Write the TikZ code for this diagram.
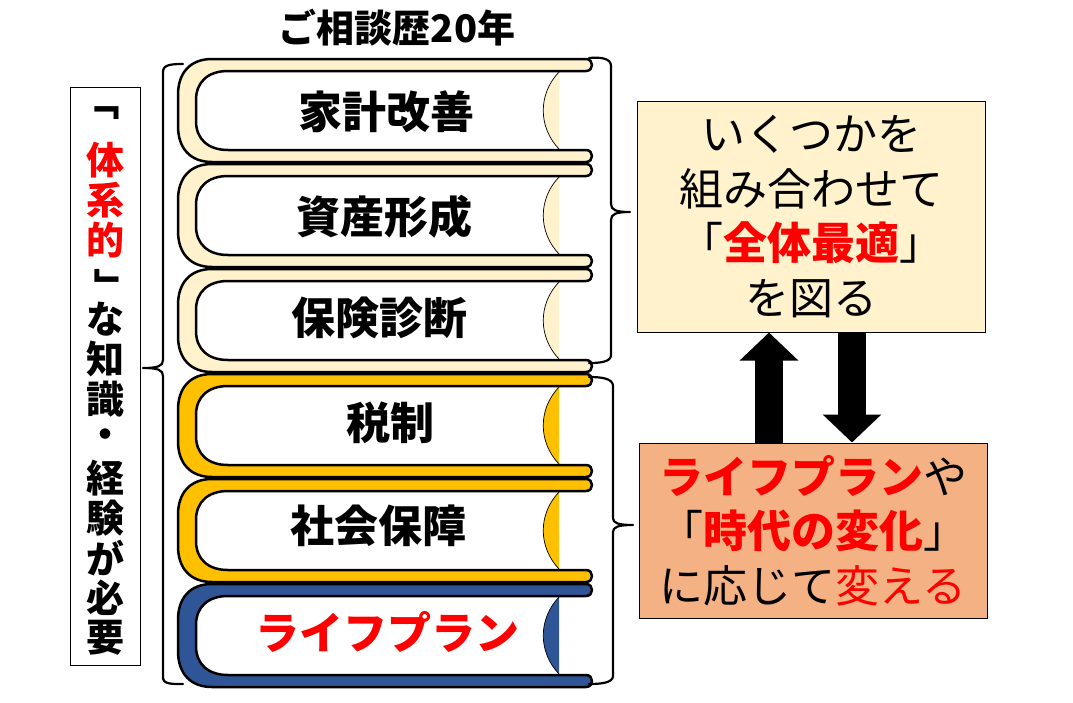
\documentclass[tikz,border=0pt]{standalone}
\usepackage{fontspec}
\newfontfamily\jp{Noto Sans CJK JP}
\usetikzlibrary{arrows.meta}
\definecolor{lightcov}{HTML}{FFF2CC}
\definecolor{goldcov}{HTML}{FFC000}
\definecolor{bluecov}{HTML}{2F5597}
\definecolor{boxa}{HTML}{FFF2CC}
\definecolor{boxb}{HTML}{F4B183}
\definecolor{myred}{HTML}{FF0000}
\newcommand\drawbook[2]{%
  \fill[white] (196,#1+12) rectangle (559,#1+91);
  \fill[#2] (559,#1+13) .. controls (538,#1+35) and (538,#1+68) .. (559,#1+90) -- cycle;
  \draw[line width=0.7pt] (559,#1+13) .. controls (538,#1+35) and (538,#1+68) .. (559,#1+90);
  \draw[line width=2.5pt, fill=#2, line join=round]
    (586,#1) -- (212,#1) .. controls (190,#1) and (178,#1+14) .. (178,#1+36)
    -- (178,#1+67) .. controls (178,#1+89) and (190,#1+103) .. (212,#1+103)
    -- (586,#1+103) .. controls (594,#1+103) and (594,#1+91) .. (586,#1+91)
    -- (228,#1+91) .. controls (208,#1+91) and (196,#1+80) .. (196,#1+62)
    -- (196,#1+41) .. controls (196,#1+23) and (208,#1+12) .. (228,#1+12)
    -- (586,#1+12) .. controls (594,#1+12) and (594,#1) .. (586,#1) -- cycle;
}
\tikzset{
  booklabel/.style={font=\jp\bfseries\fontsize{44}{48}\selectfont, inner sep=0pt},
  infobox/.style={draw, line width=1pt, inner sep=0pt, align=center,
    minimum width=348pt, font=\jp\fontsize{44}{54.5}\selectfont},
  vchar/.style={font=\jp\bfseries\fontsize{38}{40}\selectfont, inner sep=0pt,
    minimum width=38pt, minimum height=38pt},
  vbracket/.style={vchar, rotate=-90},
  bigarrow/.style={line width=28pt, -{Triangle[width=57pt,length=28pt]}},
  bracestyle/.style={line width=2.2pt, line cap=round, line join=round},
}
\begin{document}
\begin{tikzpicture}[x=1pt,y=-1pt]
\useasboundingbox (0,0) rectangle (1073,702);
\fill[white] (0,0) rectangle (1073,702);

% title
\node[font=\jp\bfseries\fontsize{38}{42}\selectfont, inner sep=0pt] (title) at (397,28) {ご相談歴20年};

% books
\drawbook{59}{lightcov}
\drawbook{164}{lightcov}
\drawbook{269}{lightcov}
\drawbook{374}{goldcov}
\drawbook{479}{goldcov}
\drawbook{584}{bluecov}

\node[booklabel] (b1) at (386,112) {家計改善};
\node[booklabel] (b2) at (384,217) {資産形成};
\node[booklabel] (b3) at (379,318) {保険診断};
\node[booklabel] (b4) at (390,423) {税制};
\node[booklabel] (b5) at (378,526) {社会保障};
\node[booklabel, text=myred] (b6) at (387,632) {ライフプラン};

% left brace
\draw[bracestyle] (183,64) .. controls (170,64) and (163,65) .. (163,72)
  -- (163,360) .. controls (163,366) and (158,368) .. (143,368)
  .. controls (158,368) and (163,370) .. (163,376)
  -- (163,677) .. controls (163,684) and (170,684) .. (183,684);

% right braces
\draw[bracestyle] (589,58) .. controls (600,57) and (611,58) .. (611,66)
  -- (611,204) .. controls (611,210) and (616,212) .. (630,212)
  .. controls (616,212) and (611,214) .. (611,220)
  -- (611,355) .. controls (611,362) and (600,363) .. (589,363);
\draw[bracestyle] (589,377) .. controls (600,377) and (613,378) .. (613,386)
  -- (613,518) .. controls (613,523) and (618,525) .. (633,525)
  .. controls (618,525) and (613,527) .. (613,532)
  -- (613,676) .. controls (613,683) and (600,684) .. (589,684);

% left vertical text box
\node[draw, line width=1pt, minimum width=70pt, minimum height=578pt, inner sep=0pt] (side) at (105,376) {};
\node[vbracket] (v0) at (103,101) {「};
\foreach \c [count=\i] in {体,系,的}
  \node[vchar, text=myred] (v\i) at (105,{160+39.8*(\i-1)}) {\c};
\node[vbracket] (v4) at (107,287) {」};
\foreach \c [count=\i from 5] in {な,知,識,・,経,験,が,必,要}
  \node[vchar] (v\i) at (105,{160+39.8*(\i-1)}) {\c};

% right boxes
\node[infobox, fill=boxa, minimum height=231pt] (box1) at (811,216.5)
  {いくつかを\\組み合わせて\\「\textcolor{myred}{\bfseries 全体最適}」\\を図る};
\node[infobox, fill=boxb, minimum height=175pt] (box2) at (813,530.5)
  {\textcolor{myred}{\bfseries ライフプラン}や\\「\textcolor{myred}{\bfseries 時代の変化}」\\に応じて\textcolor{myred}{変える}};

% arrows
\coordinate (ua) at (769,0);
\coordinate (da) at (852,0);
\draw[bigarrow] (box2.north -| ua) -- (box1.south -| ua);
\draw[bigarrow] (box1.south -| da) -- (box2.north -| da);
\end{tikzpicture}
\end{document}
